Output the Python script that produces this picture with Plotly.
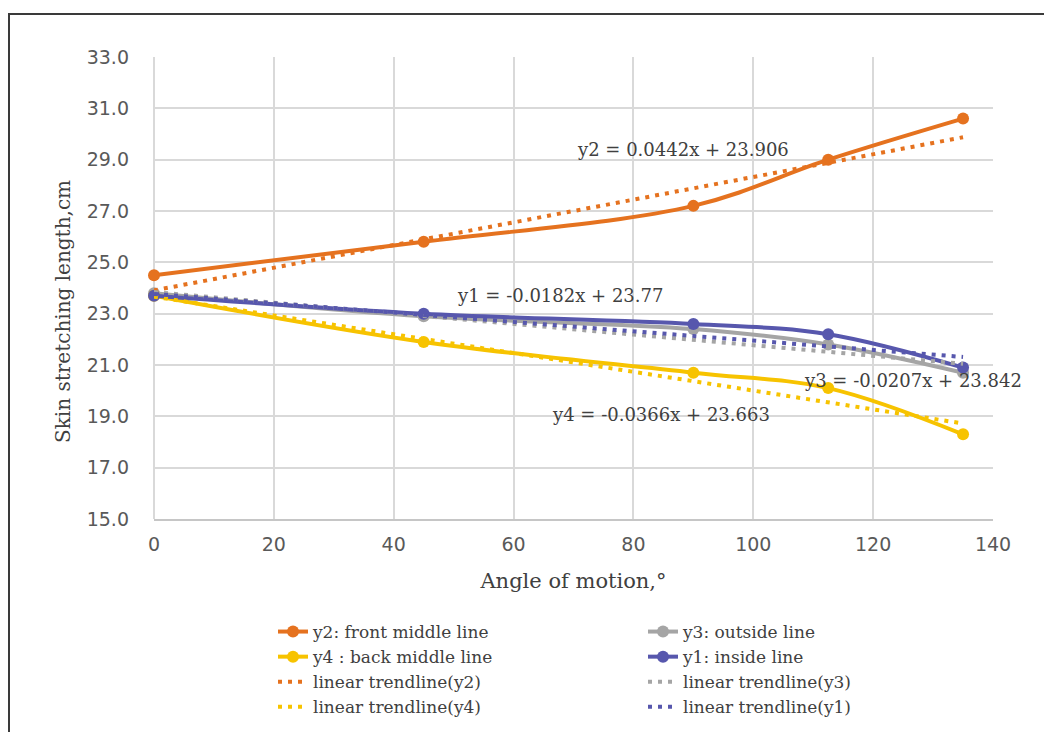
import plotly.graph_objects as go

# ---- data ----
angles = [0, 45, 90, 112.5, 135]
y1_inside = [23.7, 23.0, 22.6, 22.2, 20.9]
y2_front = [24.5, 25.8, 27.2, 29.0, 30.6]
y3_outside = [23.8, 22.9, 22.4, 21.8, 20.7]
y4_back = [23.7, 21.9, 20.7, 20.1, 18.3]

# trendline coefficients shown on the chart (slope, intercept)
trend_y1 = (-0.0182, 23.77)
trend_y2 = (0.0442, 23.906)
trend_y3 = (-0.0207, 23.842)
trend_y4 = (-0.0366, 23.663)
trend_x = [0, 135]

x_ticks = [0, 20, 40, 60, 80, 100, 120, 140]
y_ticks = [15, 17, 19, 21, 23, 25, 27, 29, 31, 33]

C_ORANGE = "#E5721F"
C_GREY = "#A5A5A5"
C_YELLOW = "#F7C300"
C_BLUE = "#5757AD"

SERIF = "DejaVu Serif"
SANS = "DejaVu Sans"


def trend(coef):
    m, b = coef
    return [m * x + b for x in trend_x]


fig = go.Figure()


def main_trace(y, name, color, legend):
    fig.add_trace(go.Scatter(
        x=angles, y=y, name=name, mode="lines+markers",
        line=dict(color=color, width=4, shape="spline", smoothing=1),
        marker=dict(color=color, size=12),
        cliponaxis=False, legend=legend,
    ))


def trend_trace(coef, name, color, legend):
    fig.add_trace(go.Scatter(
        x=trend_x, y=trend(coef), name=name, mode="lines",
        line=dict(color=color, width=4, dash="4px,6px"),
        cliponaxis=False, legend=legend,
    ))


main_trace(y2_front, "y2: front middle line", C_ORANGE, "legend")
main_trace(y3_outside, "y3: outside line", C_GREY, "legend2")
main_trace(y4_back, "y4 : back middle line", C_YELLOW, "legend")
main_trace(y1_inside, "y1: inside line", C_BLUE, "legend2")
trend_trace(trend_y2, "linear trendline(y2)", C_ORANGE, "legend")
trend_trace(trend_y3, "linear trendline(y3)", C_GREY, "legend2")
trend_trace(trend_y4, "linear trendline(y4)", C_YELLOW, "legend")
trend_trace(trend_y1, "linear trendline(y1)", C_BLUE, "legend2")

# page offset of the plot div (browser body margin)
OFF = 8
W, H = 1052, 732
# plot area in page pixels: left 154, right 993, top 57, bottom 519
L = 154 - OFF
T = 57 - OFF
R = W - (993 - OFF)
B = H - (519 - OFF)
pw, ph = W - L - R, H - T - B


def px2paper(px, py):
    fx, fy = px - OFF, py - OFF
    return (fx - L) / pw, (H - B - fy) / ph


ann_font = dict(family=SERIF, size=18, color="#404040")
fig.add_annotation(x=88.3, y=29.38, text="y2 = 0.0442x + 23.906", showarrow=False, font=ann_font)
fig.add_annotation(x=67.7, y=23.69, text="y1 = -0.0182x + 23.77", showarrow=False, font=ann_font)
fig.add_annotation(x=126.6, y=20.38, text="y3 = -0.0207x + 23.842", showarrow=False, font=ann_font)
fig.add_annotation(x=84.6, y=19.09, text="y4 = -0.0366x + 23.663", showarrow=False, font=ann_font)

# y-axis title
yx, yy = px2paper(63, 312)
fig.add_annotation(x=yx, y=yy, xref="paper", yref="paper", text="Skin stretching length,cm",
                   textangle=-90, showarrow=False, xanchor="center", yanchor="middle",
                   font=dict(family=SERIF, size=20, color="#404040"))

# outer frame
x0, y0 = px2paper(9, 780)
x1, y1 = px2paper(1090, 14)
fig.add_shape(type="rect", xref="paper", yref="paper", x0=x0, y0=y0, x1=x1, y1=y1,
              line=dict(color="#3a3a3a", width=2), layer="above")

lx1, ly = px2paper(273, 614)
lx2, _ = px2paper(643, 614)
leg_common = dict(orientation="v", yanchor="top", xanchor="left",
                  font=dict(family=SERIF, size=17, color="#404040"),
                  bgcolor="rgba(0,0,0,0)", itemwidth=30, tracegroupgap=0)

fig.update_layout(
    width=W, height=H,
    margin=dict(l=L, r=R, t=T, b=B),
    paper_bgcolor="white", plot_bgcolor="white",
    showlegend=True,
    legend=dict(x=lx1, y=ly, **leg_common),
    legend2=dict(x=lx2, y=ly, **leg_common),
    xaxis=dict(
        range=[0, 140], tickvals=x_ticks, ticktext=[str(v) for v in x_ticks],
        showgrid=True, gridcolor="#D9D9D9", gridwidth=2,
        showline=True, linecolor="#C6C6C6", linewidth=2, mirror=False,
        zeroline=False, ticks="", ticklabelstandoff=7,
        tickfont=dict(family=SANS, size=19, color="#595959"),
        title=dict(text="Angle of motion,°", standoff=20,
                   font=dict(family=SERIF, size=21, color="#404040")),
    ),
    yaxis=dict(
        range=[15, 33], tickvals=y_ticks, ticktext=[f"{v:.1f}" for v in y_ticks],
        showgrid=True, gridcolor="#D9D9D9", gridwidth=2,
        showline=False, zeroline=False, ticks="", ticklabelstandoff=24,
        tickfont=dict(family=SANS, size=19, color="#595959"),
    ),
)
fig.add_shape(type="line", xref="paper", yref="paper", x0=0, x1=0, y0=0, y1=1,
              line=dict(color="#D9D9D9", width=2), layer="below")

fig.write_html("out.html")
